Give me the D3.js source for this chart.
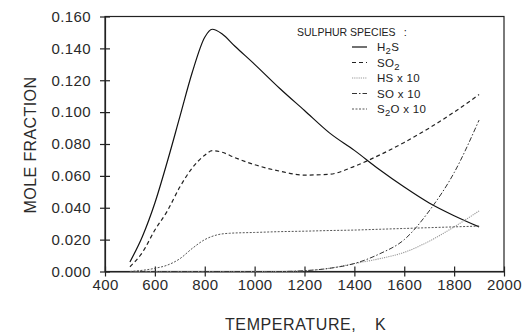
<!DOCTYPE html>
<html lang="en">
<head>
<meta charset="utf-8">
<title>Sulphur species mole fraction</title>
<script src="https://d3js.org/d3.v7.min.js"></script>
<style>
  body { margin: 0; background: #fff; }
  svg { font-family: "Liberation Sans", Arial, sans-serif; }
  .axis text { font-size: 15px; fill: #2a2a2a; letter-spacing: 0.4px; }
  .axis path, .axis line { stroke: #222; stroke-width: 1.2; }
</style>
</head>
<body>
<script>
// temperatures (K) shared by the two main species
var tempsMain = [500, 550, 600, 650, 700, 750, 800, 830, 870, 920, 1000, 1100, 1200, 1300, 1400, 1500, 1600, 1700, 1800, 1900];
var h2s = [0.006, 0.022, 0.043, 0.069, 0.097, 0.125, 0.147, 0.152, 0.149, 0.1415, 0.130, 0.115, 0.101, 0.087, 0.076, 0.064, 0.053, 0.043, 0.035, 0.028];
var so2 = [0.003, 0.012, 0.026, 0.038, 0.053, 0.065, 0.073, 0.0758, 0.0748, 0.0715, 0.067, 0.063, 0.0605, 0.061, 0.066, 0.073, 0.081, 0.090, 0.100, 0.111];

// minor species (multiplied by 10)
var tempsMinor = [500, 600, 650, 700, 750, 800, 850, 900, 1000, 1100, 1200, 1300, 1400, 1500, 1600, 1700, 1800, 1900];
var hsX10  = [0, 0, 0, 0, 0, 0, 0, 0, 0, 0, 0.0005, 0.002, 0.005, 0.008, 0.012, 0.019, 0.028, 0.038];
var soX10  = [0, 0, 0, 0, 0, 0, 0, 0, 0, 0, 0.0005, 0.002, 0.005, 0.011, 0.020, 0.038, 0.062, 0.095];
var s2oX10 = [0, 0.002, 0.004, 0.008, 0.0145, 0.020, 0.023, 0.024, 0.0245, 0.025, 0.0253, 0.0257, 0.026, 0.0265, 0.027, 0.0275, 0.028, 0.0285];

var xTicks = [400, 600, 800, 1000, 1200, 1400, 1600, 1800, 2000];
var yTicks = [0, 0.02, 0.04, 0.06, 0.08, 0.10, 0.12, 0.14, 0.16];

var width = 526, height = 332;
var margin = {left: 105, right: 22, top: 16.5, bottom: 60.5};

var x = d3.scaleLinear().domain([400, 2000]).range([margin.left, width - margin.right]);
var y = d3.scaleLinear().domain([0, 0.16]).range([height - margin.bottom, margin.top]);

var svg = d3.select("body").append("svg")
    .attr("width", width)
    .attr("height", height);

// frame
svg.append("rect")
    .attr("x", x(400)).attr("y", y(0.16))
    .attr("width", x(2000) - x(400)).attr("height", y(0) - y(0.16))
    .attr("fill", "none").attr("stroke", "#222").attr("stroke-width", 1.2);

var xAxis = svg.append("g").attr("class", "axis")
    .attr("transform", "translate(0," + y(0) + ")")
    .call(d3.axisBottom(x).tickValues(xTicks).tickFormat(d3.format("d")).tickSize(5).tickPadding(3).tickSizeOuter(0));
xAxis.selectAll(".tick line").attr("y1", -5);

var yAxis = svg.append("g").attr("class", "axis")
    .attr("transform", "translate(" + x(400) + ",0)")
    .call(d3.axisLeft(y).tickValues(yTicks).tickFormat(d3.format(".3f")).tickSize(5).tickPadding(9).tickSizeOuter(0));
yAxis.selectAll(".tick line").attr("x1", 5);

// axis titles
var xt = svg.append("text")
    .attr("y", 330)
    .attr("font-size", 16).attr("fill", "#2a2a2a")
    .attr("letter-spacing", 0.6);
xt.append("tspan").attr("x", 225).text("TEMPERATURE,");
xt.append("tspan").attr("x", 375).text("K");

svg.append("text")
    .attr("transform", "translate(36,145) rotate(-90)")
    .attr("text-anchor", "middle")
    .attr("font-size", 16).attr("fill", "#2a2a2a")
    .attr("letter-spacing", 0.4)
    .text("MOLE FRACTION");

var series = [
  {temps: tempsMain,  vals: h2s,    color: "#111", dash: null,        w: 1.2, label: ["H", "2", "S"]},
  {temps: tempsMain,  vals: so2,    color: "#222", dash: "4,3",       w: 1.2, label: ["SO", "2", ""]},
  {temps: tempsMinor, vals: hsX10,  color: "#999", dash: "1.2,1",     w: 1.1, label: ["HS x 10", "", ""]},
  {temps: tempsMinor, vals: soX10,  color: "#333", dash: "5,2,1.5,2", w: 1.0, label: ["SO x 10", "", ""]},
  {temps: tempsMinor, vals: s2oX10, color: "#555", dash: "2,1.5",     w: 1.0, label: ["S", "2", "O x 10"]}
];

var line = d3.line().curve(d3.curveMonotoneX);

series.forEach(function(s) {
  var pts = s.temps.map(function(t, i) { return [x(t), y(s.vals[i])]; });
  svg.append("path")
      .attr("d", line(pts))
      .attr("fill", "none")
      .attr("stroke", s.color)
      .attr("stroke-width", s.w)
      .attr("stroke-dasharray", s.dash);
});

// legend
var legend = svg.append("g").attr("font-size", 11.5).attr("fill", "#222");
var head = legend.append("text")
    .attr("x", 297).attr("y", 36)
    .attr("font-size", 10.5)
    .text("SULPHUR SPECIES");
// stretch the heading to about 94px and put the colon just after it
var natural = head.node().getComputedTextLength();
if (natural < 94) head.attr("letter-spacing", (94 - natural) / 15);
var headEnd = head.node().getBBox();
legend.append("text")
    .attr("x", headEnd.x + headEnd.width + 8).attr("y", 36)
    .attr("font-size", 11)
    .text(":");

series.forEach(function(s, i) {
  var ly = 47 + i * 15.5;
  legend.append("line")
      .attr("x1", 352).attr("x2", 367)
      .attr("y1", ly).attr("y2", ly)
      .attr("stroke", s.color)
      .attr("stroke-width", s.w)
      .attr("stroke-dasharray", s.dash);
  var t = legend.append("text").attr("x", 377).attr("y", ly + 4).attr("letter-spacing", 0.3);
  t.append("tspan").text(s.label[0]);
  if (s.label[1]) {
    t.append("tspan").attr("dy", 3).attr("font-size", 9.5).text(s.label[1]);
    t.append("tspan").attr("dy", -3).text(s.label[2]);
  }
});
</script>
</body>
</html>
